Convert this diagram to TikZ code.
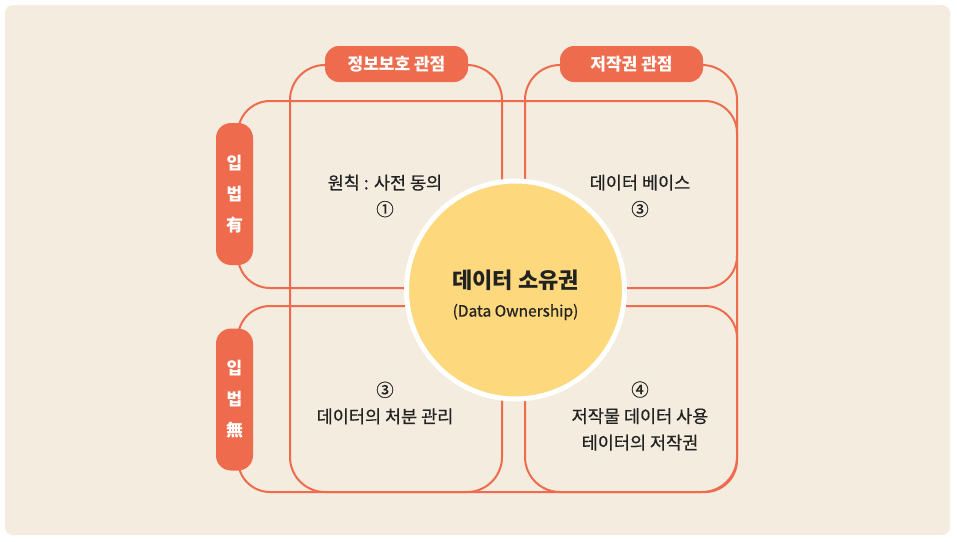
\documentclass[tikz,border=0pt]{standalone}
\usepackage{fontspec}
\setmainfont{Noto Sans CJK KR}
\newfontfamily\medfont[FakeBold=0.6]{Noto Sans CJK KR}
\definecolor{coral}{HTML}{EE6C4D}
\definecolor{sand}{HTML}{F3ECDF}
\definecolor{sun}{HTML}{FDD87D}
\definecolor{ink}{HTML}{222222}
\tikzset{
  frame/.style={draw=coral, line width=2pt, rectangle, inner sep=0pt},
  pill/.style={fill=coral, rectangle, rounded corners=14pt, text=white, font=\fontsize{17}{20}\selectfont\bfseries, inner sep=0pt},
  vpill/.style={fill=coral, rectangle, rounded corners=15pt, text=white, align=center, font=\fontsize{17}{31}\selectfont\bfseries, inner sep=0pt, minimum width=37pt, minimum height=142pt},
  label/.style={text=ink, align=center, font=\fontsize{17.5}{26.5}\medfont, inner sep=0pt}
}
\begin{document}
\begin{tikzpicture}[x=1pt,y=-1pt]
\useasboundingbox (0,0) rectangle (957,541);
\fill[white] (0,0) rectangle (957,541);
\fill[sand, rounded corners=8pt] (5,5) rectangle (950,535);
% rows
\node[frame, rounded corners=32pt, minimum width=499pt, minimum height=187pt] (rowbox1) at (487.5,194.5) {};
\node[frame, rounded corners=32pt, minimum width=499pt, minimum height=186pt] (rowbox2) at (487.5,399) {};
% columns
\node[frame, rounded corners=35pt, minimum width=212pt, minimum height=427pt] (colbox1) at (396,278.5) {};
\node[frame, rounded corners=35pt, minimum width=212pt, minimum height=427pt] (colbox2) at (631,278.5) {};
% core circle
\node[circle, fill=sun, draw=white, line width=5pt, minimum size=218pt, inner sep=0pt] (core) at (515.5,290) {};
\node[text=ink, font=\fontsize{22}{24}\selectfont\bfseries, inner sep=0pt] (coretitle) at (515.5,280) {데이터 소유권};
\node[text=ink, font=\fontsize{15.5}{18}\medfont, inner sep=0pt] (coresub) at (515.5,312) {(Data Ownership)};
% column pills
\node[pill, minimum width=143pt, minimum height=36pt] (colA) at (396.5,64) {정보보호 관점};
\node[pill, minimum width=143pt, minimum height=36pt] (colB) at (631.5,64) {저작권 관점};
% row pills
\node[vpill] (rowA) at (234.5,194) {입\\법\\有};
\node[vpill] (rowB) at (234.5,399.5) {입\\법\\無};
% quadrant texts
\node[label] (q1) at (385,196) {원칙 : 사전 동의\\①};
\node[label] (q2) at (640,196) {데이터 베이스\\③};
\node[label] (q3) at (385,403) {③\\데이터의 처분 관리};
\node[label] (q4) at (640,416) {④\\저작물 데이터 사용\\테이터의 저작권};
\end{tikzpicture}
\end{document}
